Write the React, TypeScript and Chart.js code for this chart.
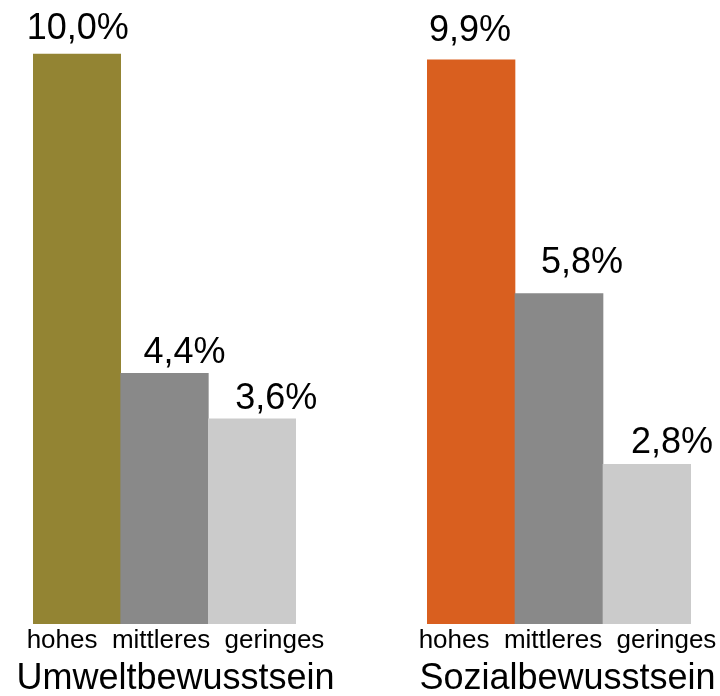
import React, { useEffect, useRef } from "react";
import { Chart, registerables } from "chart.js";

Chart.register(...registerables);

// ---- data ----
const categories = ["hohes", "mittleres", "geringes"];
const umweltValues = [10.0, 4.4, 3.6];
const sozialValues = [9.9, 5.8, 2.8];
const groupTitles = ["Umweltbewusstsein", "Sozialbewusstsein"];

// ---- styles ----
const FONT = "'Liberation Sans', Arial, Helvetica, sans-serif";
const umweltColors = ["#938433", "#898989", "#cbcbcb"];
const sozialColors = ["#d95f1f", "#898989", "#cbcbcb"];
const Y_MAX = 10.95;

const valueLabelPlugin = {
  id: "valueLabels",
  afterDatasetsDraw(chart: any, _args: any, opts: any) {
    const { ctx } = chart;
    const meta = chart.getDatasetMeta(0);
    const data = chart.data.datasets[0].data as number[];
    ctx.save();
    ctx.font = `${opts.size}px ${FONT}`;
    ctx.fillStyle = "#000";
    ctx.textAlign = "center";
    ctx.textBaseline = "alphabetic";
    meta.data.forEach((bar: any, i: number) => {
      const text = data[i].toFixed(1).replace(".", ",") + "%";
      ctx.fillText(text, bar.x + opts.dx[i], bar.y - opts.gap[i]);
    });
    ctx.restore();
  },
};

type PanelProps = {
  values: number[];
  colors: string[];
  title: string;
  left: number;
  width: number;
  padL: number;
  padR: number;
  dx: number[];
  gap: number[];
};

function Panel(p: PanelProps) {
  const ref = useRef<HTMLCanvasElement>(null);
  useEffect(() => {
    if (!ref.current) return;
    const chart = new Chart(ref.current, {
      type: "bar",
      data: {
        labels: categories,
        datasets: [
          {
            data: p.values,
            backgroundColor: p.colors,
            borderWidth: 0,
            categoryPercentage: 1,
            barPercentage: 1,
          },
        ],
      },
      options: {
        animation: false,
        responsive: false,
        layout: { padding: 0 },
        scales: {
          x: { display: false, offset: true },
          y: {
            display: true,
            position: "left",
            min: 0,
            max: Y_MAX,
            grid: { display: false },
            border: { display: false },
            ticks: { display: false },
            afterFit: (s: any) => {
              s.width = p.padL;
            },
          },
          y2: {
            display: true,
            position: "right",
            min: 0,
            max: Y_MAX,
            grid: { display: false },
            border: { display: false },
            ticks: { display: false },
            afterFit: (s: any) => {
              s.width = p.padR;
            },
          },
        },
        plugins: {
          legend: { display: false },
          tooltip: { enabled: false },
          subtitle: {
            display: true,
            position: "bottom",
            text: categories.join("  "),
            color: "#000",
            font: { family: FONT, size: 26, weight: "normal", lineHeight: 1 },
            padding: { top: 3.5, bottom: 6.5 },
          },
          title: {
            display: true,
            position: "bottom",
            text: p.title,
            color: "#000",
            font: { family: FONT, size: 36, weight: "normal", lineHeight: 1 },
            padding: { top: 1.5, bottom: -1.5 },
          },
          valueLabels: { size: 36, dx: p.dx, gap: p.gap },
        } as any,
      },
      plugins: [valueLabelPlugin],
    });
    return () => chart.destroy();
  }, []);
  return (
    <canvas
      ref={ref}
      width={p.width}
      height={696}
      style={{ position: "absolute", left: p.left, top: 0, width: p.width, height: 696 }}
    />
  );
}

export default function App() {
  return (
    <div
      style={{
        position: "absolute",
        left: 0,
        top: 0,
        width: 720,
        height: 696,
        overflow: "hidden",
        background: "#fff",
      }}
    >
      <Panel
        values={umweltValues}
        colors={umweltColors}
        title={groupTitles[0]}
        left={0}
        width={351}
        padL={33}
        padR={55}
        dx={[1, 20, 24]}
        gap={[15.4, 10, 9.4]}
      />
      <Panel
        values={sozialValues}
        colors={sozialColors}
        title={groupTitles[1]}
        left={400}
        width={335}
        padL={27}
        padR={44}
        dx={[-1, 23, 25]}
        gap={[19.3, 20.4, 11]}
      />
    </div>
  );
}
